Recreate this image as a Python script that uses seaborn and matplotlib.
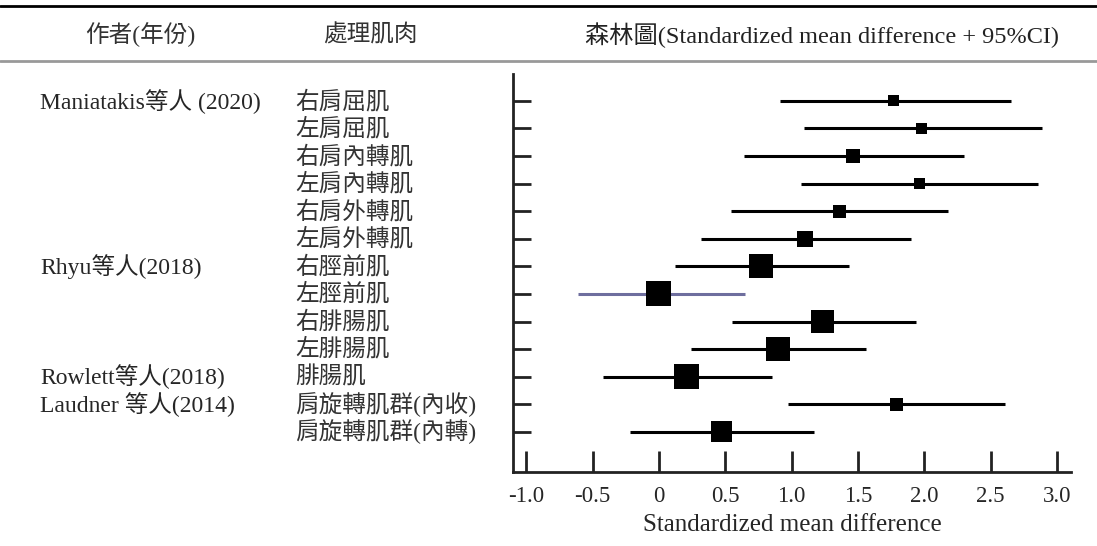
import numpy as np
import pandas as pd
import matplotlib
matplotlib.use("Agg")
import matplotlib.pyplot as plt
import seaborn as sns
from matplotlib.lines import Line2D

# dane
authors = ["Maniatakis等人 (2020)", "", "", "", "", "",
           "Rhyu等人(2018)", "", "", "",
           "Rowlett等人(2018)", "Laudner 等人(2014)", ""]
muscles = ["右肩屈肌", "左肩屈肌", "右肩內轉肌", "左肩內轉肌", "右肩外轉肌", "左肩外轉肌",
           "右脛前肌", "左脛前肌", "右腓腸肌", "左腓腸肌",
           "腓腸肌", "肩旋轉肌群(內收)", "肩旋轉肌群(內轉)"]
smd = [1.77, 1.98, 1.46, 1.96, 1.36, 1.10, 0.77, 0.00, 1.23, 0.90, 0.21, 1.79, 0.47]
ci_low = [0.91, 1.09, 0.64, 1.07, 0.54, 0.32, 0.12, -0.61, 0.55, 0.24, -0.42, 0.97, -0.22]
ci_high = [2.65, 2.89, 2.30, 2.86, 2.18, 1.90, 1.43, 0.65, 1.94, 1.56, 0.85, 2.61, 1.17]
weight = [11, 11, 14, 11, 13, 16, 24, 25, 23, 24, 25, 13, 21]
xticks = [-1.0, -0.5, 0, 0.5, 1.0, 1.5, 2.0, 2.5, 3.0]
xticklabels = ["-1.0", "-0.5", "0", "0.5", "1.0", "1.5", "2.0", "2.5", "3.0"]

df = pd.DataFrame({"row": range(len(muscles)), "smd": smd,
                   "lo": ci_low, "hi": ci_high, "w": weight})

sns.set_theme(style="white")
fonts = ["Liberation Serif", "Noto Sans CJK TC"]
plt.rcParams["font.family"] = fonts

fig = plt.figure(figsize=(10.97, 5.46), dpi=100)
ax = fig.add_axes([0.4676, 0.1355, 0.5087, 0.7295])

line_colors = ["#6e6e9e" if i == 7 else "black" for i in range(len(muscles))]
ax.hlines(df["row"], df["lo"], df["hi"], colors=line_colors, linewidth=2.2, zorder=2)

sizes = {w: (w * 0.72) ** 2 for w in set(weight)}
sns.scatterplot(data=df, x="smd", y="row", size="w", sizes=sizes, marker="s",
                color="black", linewidth=0, legend=False, ax=ax, zorder=3)

ax.set_xlim(-1.10, 3.105)
ax.set_ylim(13.45, -0.98)
ax.set_xticks(xticks)
ax.set_xticklabels(xticklabels)
ax.set_yticks(df["row"])
ax.set_yticklabels([])
ax.tick_params(axis="both", direction="in", length=13, width=2, color="#222222",
               left=True, bottom=True, labelsize=16.5, pad=10)
ax.tick_params(axis="x", length=15)
for side in ["top", "right"]:
    ax.spines[side].set_visible(False)
for side in ["left", "bottom"]:
    ax.spines[side].set_linewidth(2)
    ax.spines[side].set_color("#222222")
ax.set_xlabel("Standardized mean difference", fontsize=18, labelpad=5)
ax.set_ylabel("")

# tekst po lewej stronie
for i in range(len(muscles)):
    yf = 1 - (102 + 27.5 * i) / 546
    if authors[i]:
        fig.text(40 / 1097, yf, authors[i], fontsize=17, va="center", ha="left")
    fig.text(295 / 1097, yf, muscles[i], fontsize=17, va="center", ha="left",
             color="#333333")

# naglowki
hy = 1 - 35 / 546
fig.text(140 / 1097, hy, "作者(年份)", fontsize=17, ha="center", va="center", color="#333333")
fig.text(370 / 1097, hy, "處理肌肉", fontsize=17, ha="center", va="center", color="#333333")
fig.text(822 / 1097, hy, "森林圖(Standardized mean difference + 95%CI)", fontsize=17.5,
         ha="center", va="center", color="#222222")

fig.add_artist(Line2D([0, 1], [1 - 6 / 546] * 2, color="black", linewidth=2))
fig.add_artist(Line2D([0, 1], [1 - 61 / 546] * 2, color="#999999", linewidth=2))

fig.savefig("out.png", dpi=100, facecolor="white")
